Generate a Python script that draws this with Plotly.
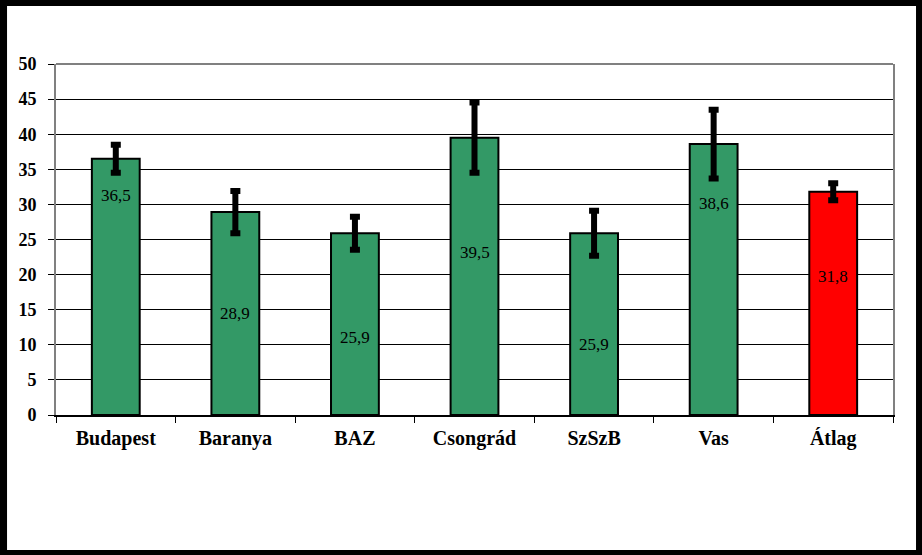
import plotly.graph_objects as go

# adatok
categories = ["Budapest", "Baranya", "BAZ", "Csongrád", "SzSzB", "Vas", "Átlag"]
values = [36.5, 28.9, 25.9, 39.5, 25.9, 38.6, 31.8]
errors = [2.0, 3.0, 2.35, 5.0, 3.2, 4.9, 1.2]
value_labels = ["36,5", "28,9", "25,9", "39,5", "25,9", "38,6", "31,8"]
bar_colors = ["#339966"] * 6 + ["#FF0000"]

# a címkék helye a lapon (Excel szerint elcsúszva)
label_y = [31.3, 14.5, 11.1, 23.2, 10.1, 30.2, 19.8]

fig = go.Figure()

fig.add_trace(go.Bar(
    x=categories,
    y=values,
    marker=dict(color=bar_colors, line=dict(color="black", width=2)),
    width=0.4,
    error_y=dict(type="data", array=errors, visible=True,
                 color="black", thickness=6, width=5),
    hoverinfo="skip",
))

for cat, lab, ly in zip(categories, value_labels, label_y):
    fig.add_annotation(x=cat, y=ly, text=lab, showarrow=False,
                       font=dict(family="Liberation Serif, serif", size=17, color="black"))

# fehér lap fekete kerettel
fig.add_shape(type="rect", xref="paper", yref="paper",
              x0=-0.0585, x1=1.0275, y0=-0.3846, y1=1.1652,
              fillcolor="white", line=dict(width=0), layer="below")
# felső szürke keret
fig.add_shape(type="line", xref="paper", yref="paper",
              x0=0, x1=1, y0=1, y1=1,
              line=dict(color="#808080", width=2), layer="above")

fig.update_layout(
    width=922, height=555,
    paper_bgcolor="black",
    plot_bgcolor="rgba(0,0,0,0)",
    margin=dict(l=56, r=29, t=64, b=140),
    showlegend=False,
    font=dict(family="Liberation Serif, serif", color="black"),
)

fig.update_xaxes(
    showline=True, linecolor="black", linewidth=2,
    ticks="outside", tickson="boundaries", ticklen=6, tickcolor="black",
    tickfont=dict(family="Liberation Serif, serif", size=20, color="black", weight="bold"),
    ticklabelstandoff=4,
    showgrid=False,
)

fig.update_yaxes(
    range=[0, 50], dtick=5,
    showline=True, linecolor="#808080", linewidth=2, mirror=True,
    ticks="outside", ticklen=6, tickcolor="black",
    tickfont=dict(family="Liberation Serif, serif", size=18, color="black", weight="bold"),
    ticklabelstandoff=8,
    showgrid=True, gridcolor="black", gridwidth=1,
    zeroline=False,
)

fig.write_html("out.html", config={"displayModeBar": False},
               post_script="document.body.style.margin='0';")
